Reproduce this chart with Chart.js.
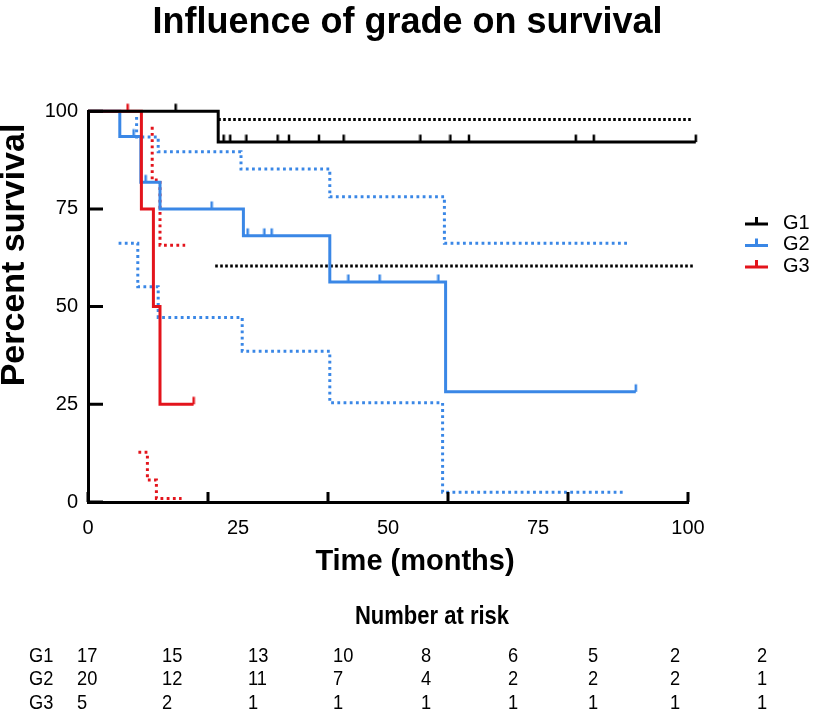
<!DOCTYPE html>
<html>
<head>
<meta charset="utf-8">
<script src="https://cdn.jsdelivr.net/npm/chart.js@4.4.1/dist/chart.umd.min.js"></script>
<style>
  html, body { margin: 0; padding: 0; background: #fff; }
  #wrap { width: 815px; height: 727px; }
</style>
</head>
<body>
<div id="wrap"><canvas id="km" width="815" height="727"></canvas></div>
<script>
  // Kaplan-Meier curves by tumour grade
  const groups = ["G1", "G2", "G3"];
  const colors = ["#000000", "#3a87e6", "#e3141c"];

  // survival steps: time (months) / percent surviving
  const g1Time = [0, 21.7, 101.3];
  const g1Surv = [100, 92.1, 92.1];
  const g2Time = [0, 5.3, 8.8, 12.0, 25.9, 40.3, 59.6, 91.3];
  const g2Surv = [100, 93.5, 81.8, 75.0, 68.1, 56.3, 28.2, 28.2];
  const g3Time = [0, 8.9, 10.9, 12.0, 17.6];
  const g3Surv = [100, 75, 50, 25, 25];

  // censored observations
  const g1CensorTime = [14.6, 22.6, 23.7, 26.4, 31.6, 33.5, 38.5, 42.6, 55.4, 60.4, 63.5, 81.3, 84.3, 101.3];
  const g1CensorSurv = [100, 92.1, 92.1, 92.1, 92.1, 92.1, 92.1, 92.1, 92.1, 92.1, 92.1, 92.1, 92.1, 92.1];
  const g2CensorTime = [7.6, 9.6, 20.6, 26.6, 29.4, 30.6, 43.4, 48.6, 58.4, 91.3];
  const g2CensorSurv = [93.5, 81.8, 75.0, 68.1, 68.1, 68.1, 56.3, 56.3, 56.3, 28.2];
  const g3CensorTime = [6.6, 17.6];
  const g3CensorSurv = [100, 25];

  // 95% confidence bands
  const g1UpperTime = [21.7, 100.8];
  const g1Upper = [97.9, 97.9];
  const g1LowerTime = [21.2, 100.8];
  const g1Lower = [60.4, 60.4];
  const g2UpperTime = [8.1, 8.1, 11.7, 25.5, 40.3, 59.4, 90.3];
  const g2Upper = [98.5, 93.4, 89.6, 85.2, 78.1, 66.2, 66.2];
  const g2LowerTime = [5.1, 8.3, 11.7, 25.7, 40.3, 59.1, 89.5];
  const g2Lower = [66.2, 55.1, 47.2, 38.6, 25.4, 2.5, 2.5];
  const g3UpperTime = [10.7, 10.7, 12.0, 16.2];
  const g3Upper = [96.0, 82.4, 65.7, 65.7];
  const g3LowerTime = [8.4, 9.9, 11.4, 15.6];
  const g3Lower = [12.7, 5.6, 0.9, 0.9];

  // axes
  const xTickMarks = [0, 20, 40, 60, 80, 100];
  const xTickLabels = [0, 25, 50, 75, 100];
  const yTickMarks = [0, 25, 50, 75, 100];
  const xTitle = "Time (months)";
  const yTitle = "Percent survival";

  // number at risk table
  const riskTitle = "Number at risk";
  const riskG1 = [17, 15, 13, 10, 8, 6, 5, 2, 2];
  const riskG2 = [20, 12, 11, 7, 4, 2, 2, 2, 1];
  const riskG3 = [5, 2, 1, 1, 1, 1, 1, 1, 1];

  const FONT = "'Liberation Sans', Arial, Helvetica, sans-serif";
  Chart.defaults.font.family = FONT;
  Chart.defaults.color = "#000";

  function pts(times, vals) {
    return times.map((t, i) => ({ x: t, y: vals[i] }));
  }

  // small upward tick used for censored points
  function censorMark(color) {
    const c = document.createElement("canvas");
    c.width = 4;
    c.height = 18;
    const g = c.getContext("2d");
    g.fillStyle = color;
    g.fillRect(0.75, 1.5, 2.5, 7.5);
    return c;
  }

  function curve(label, data, color) {
    return {
      label: label,
      data: data,
      borderColor: color,
      borderWidth: 3,
      stepped: "before",
      pointRadius: 0,
      fill: false,
      clip: false,
    };
  }

  function band(data, color, dash) {
    return {
      label: "",
      data: data,
      borderColor: color,
      borderWidth: 3,
      borderDash: dash,
      stepped: "before",
      pointRadius: 0,
      fill: false,
      clip: false,
    };
  }

  function censored(data, color) {
    return {
      type: "scatter",
      label: "",
      data: data,
      showLine: false,
      pointStyle: censorMark(color),
      pointRadius: 10,
      clip: false,
    };
  }

  const axisDecor = {
    id: "axisDecor",
    afterDraw(chart) {
      const { ctx, chartArea, scales } = chart;
      ctx.save();
      ctx.strokeStyle = "#000";
      ctx.lineWidth = 3;
      ctx.beginPath();
      xTickMarks.forEach((v) => {
        const px = scales.x.getPixelForValue(v);
        ctx.moveTo(px, chartArea.bottom);
        ctx.lineTo(px, chartArea.bottom - 10);
      });
      yTickMarks.forEach((v) => {
        const py = scales.y.getPixelForValue(v);
        ctx.moveTo(chartArea.left, py);
        ctx.lineTo(chartArea.left + 15, py);
      });
      ctx.stroke();

      // axis titles
      ctx.fillStyle = "#000";
      ctx.textAlign = "center";
      ctx.textBaseline = "middle";
      ctx.font = "bold 29px " + FONT;
      ctx.fillText(xTitle, 415, 562);
      ctx.translate(15, 255);
      ctx.rotate(-Math.PI / 2);
      ctx.font = "bold 34px " + FONT;
      ctx.fillText(yTitle, 0, 0);
      ctx.restore();
    },
  };

  const sideLegend = {
    id: "sideLegend",
    afterDraw(chart) {
      const ctx = chart.ctx;
      ctx.save();
      ctx.font = "20px " + FONT;
      ctx.textBaseline = "middle";
      ctx.textAlign = "left";
      groups.forEach((name, i) => {
        const y = 223 + i * 21.5;
        ctx.strokeStyle = colors[i];
        ctx.lineWidth = 3;
        ctx.beginPath();
        ctx.moveTo(745, y + 1);
        ctx.lineTo(768, y + 1);
        ctx.moveTo(756.5, y + 1);
        ctx.lineTo(756.5, y - 6);
        ctx.stroke();
        ctx.fillStyle = "#000";
        ctx.fillText(name, 783, y);
      });
      ctx.restore();
    },
  };

  // condensed text: draw with a horizontal squeeze
  function narrowText(ctx, text, x, y, sx) {
    ctx.save();
    ctx.translate(x, y);
    ctx.scale(sx, 1);
    ctx.fillText(text, 0, 0);
    ctx.restore();
  }

  const riskTable = {
    id: "riskTable",
    afterDraw(chart) {
      const ctx = chart.ctx;
      const cols = [77, 162, 248, 333, 421, 508, 588, 670, 757];
      const rows = [riskG1, riskG2, riskG3];
      ctx.save();
      ctx.fillStyle = "#000";
      ctx.textBaseline = "middle";
      ctx.textAlign = "center";
      ctx.font = "bold 25px " + FONT;
      narrowText(ctx, riskTitle, 432, 617, 0.88);
      ctx.textAlign = "left";
      ctx.font = "21px " + FONT;
      rows.forEach((row, r) => {
        const y = 656 + r * 23.5;
        narrowText(ctx, groups[r], 29, y, 0.87);
        row.forEach((n, c) => narrowText(ctx, String(n), cols[c], y, 0.87));
      });
      ctx.restore();
    },
  };

  new Chart(document.getElementById("km"), {
    type: "line",
    data: {
      datasets: [
        curve("G1", pts(g1Time, g1Surv), colors[0]),
        censored(pts(g1CensorTime, g1CensorSurv), colors[0]),
        curve("G3", pts(g3Time, g3Surv), colors[2]),
        censored(pts(g3CensorTime, g3CensorSurv), colors[2]),
        curve("G2", pts(g2Time, g2Surv), colors[1]),
        censored(pts(g2CensorTime, g2CensorSurv), colors[1]),
        band(pts(g1UpperTime, g1Upper), colors[0], [2.6, 2.4]),
        band(pts(g1LowerTime, g1Lower), colors[0], [2.6, 2.4]),
        band(pts(g3UpperTime, g3Upper), colors[2], [2.8, 3.4]),
        band(pts(g3LowerTime, g3Lower), colors[2], [2.8, 3.4]),
        band(pts(g2UpperTime, g2Upper), colors[1], [2.8, 3.4]),
        band(pts(g2LowerTime, g2Lower), colors[1], [2.8, 3.4]),
      ],
    },
    options: {
      responsive: false,
      animation: false,
      events: [],
      layout: { padding: { left: 0, right: 0, top: 0, bottom: 141 } },
      plugins: {
        legend: { display: false },
        tooltip: { enabled: false },
        title: {
          display: true,
          text: "Influence of grade on survival",
          color: "#000",
          font: { size: 36, weight: "bold" },
          padding: { top: 1, bottom: 67 },
        },
      },
      scales: {
        x: {
          type: "linear",
          min: 0,
          max: 100,
          grid: { display: false, drawTicks: false },
          border: { display: true, color: "#000", width: 3 },
          ticks: {
            stepSize: 5,
            autoSkip: false,
            maxRotation: 0,
            padding: 14,
            color: "#000",
            font: { size: 20 },
            callback: (v) => (xTickLabels.includes(v) ? v : ""),
          },
          afterFit(scale) {
            scale.height = 84;
          },
        },
        y: {
          min: 0,
          max: 100,
          grid: { display: false, drawTicks: false },
          border: { display: true, color: "#000", width: 3 },
          ticks: {
            stepSize: 25,
            padding: 10,
            color: "#000",
            font: { size: 20 },
          },
          afterFit(scale) {
            scale.width = 88;
          },
        },
        // empty right-hand box that keeps room for the legend
        side: {
          position: "right",
          display: true,
          grid: { display: false, drawTicks: false },
          border: { display: false },
          ticks: { display: false },
          afterFit(scale) {
            scale.width = 127;
          },
        },
      },
    },
    plugins: [axisDecor, sideLegend, riskTable],
  });
</script>
</body>
</html>
